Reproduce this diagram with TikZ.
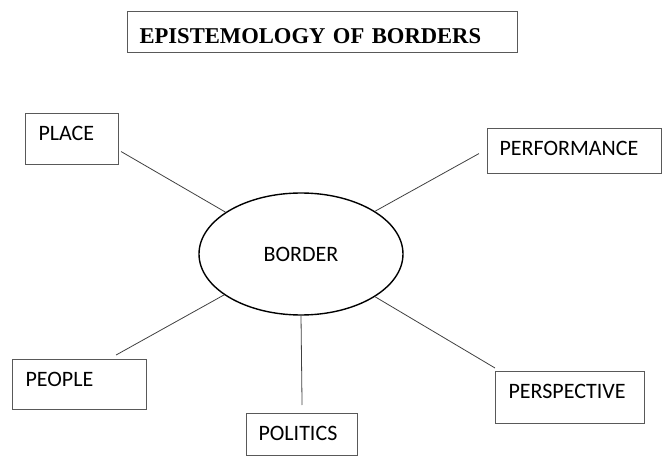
\documentclass[tikz,border=0pt]{standalone}
\usepackage{fontspec}
\setmainfont{Carlito}
\newfontfamily\headfont{Liberation Serif}
\usepackage{xcolor}
\usetikzlibrary{shapes.geometric}

\definecolor{boxline}{gray}{0.35}
\definecolor{linkline}{gray}{0.25}

\begin{document}
\begin{tikzpicture}[x=1pt, y=1pt,
    font=\fontsize{22}{26}\selectfont,
    topic/.style={draw=boxline, line width=1.1pt, anchor=north west, align=left,
      inner ysep=0pt, text height=27pt},
    link/.style={draw=linkline, line width=0.8pt}]
  \useasboundingbox (0,0) rectangle (662,456);
  % Title
  \node[topic, inner xsep=12pt, text width=366pt, text height=32pt, text depth=9pt,
        font=\headfont\bfseries\fontsize{22.6}{26}\selectfont]
      (title) at (127,445) {EPISTEMOLOGY OF BORDERS};
  % Centre
  \node[ellipse, draw, line width=1.4pt, inner sep=0pt,
        minimum width=204pt, minimum height=122pt] (border) at (301,202) {BORDER};
  % Topic boxes
  \node[topic, inner xsep=13pt, text width=67pt, text depth=24pt] (place) at (25,343) {PLACE};
  \node[topic, inner xsep=12pt, text width=150pt, text depth=18pt] (performance) at (487,328) {PERFORMANCE};
  \node[topic, inner xsep=13pt, text width=108pt, text depth=23pt] (people) at (12,97) {PEOPLE};
  \node[topic, inner xsep=12pt, text width=87pt, text depth=15pt] (politics) at (246,43) {POLITICS};
  \node[topic, inner xsep=13pt, text width=123pt, text depth=25pt] (perspective) at (495,85) {PERSPECTIVE};
  % Links
  \draw[link] ([shift={(2,-12.5)}]place.east) -- (border.151);
  \draw[link] ([shift={(-8,-2.5)}]performance.west) -- (border.30);
  \draw[link] ([shift={(-31,4)}]people.north east) -- (border.208);
  \draw[link] (border.south) -- ([yshift=8pt]politics.north);
  \draw[link] ([yshift=3pt]perspective.north west) -- (border.330);
\end{tikzpicture}
\end{document}
